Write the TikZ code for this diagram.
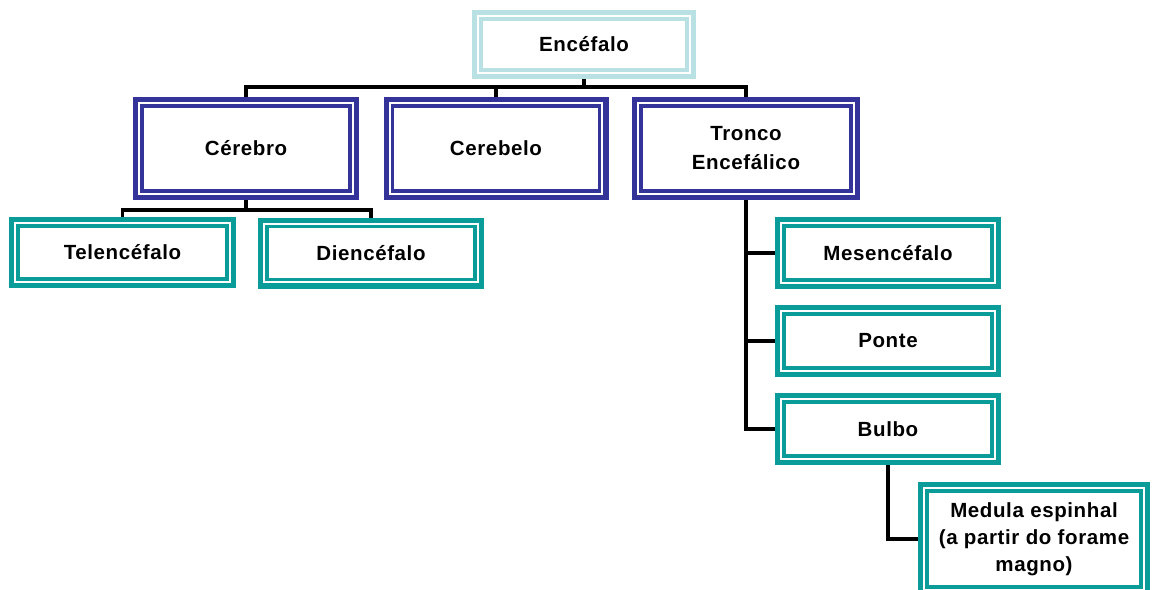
\documentclass[tikz,border=0pt]{standalone}
\usepackage{fontspec}
\newfontfamily\labfont[LetterSpace=3]{Liberation Sans Bold}
\definecolor{navyb}{HTML}{333399}
\definecolor{tealb}{HTML}{0A9C98}
\definecolor{lightb}{HTML}{B9E1E4}
\tikzset{
  dbox/.style={rectangle, inner sep=0pt, outer sep=0pt, fill=#1,
    font=\labfont\fontsize{20.5}{29}\selectfont, align=center, text=black,
    path picture={
      \fill[white] ([shift={(5.3pt,5.3pt)}]path picture bounding box.south west)
        rectangle ([shift={(-5.3pt,-5.3pt)}]path picture bounding box.north east);
      \draw[#1, line width=3.4pt] ([shift={(9pt,9pt)}]path picture bounding box.south west)
        rectangle ([shift={(-9pt,-9pt)}]path picture bounding box.north east);
    }},
  conn/.style={draw=black, line width=3.8pt, line join=miter}
}
\begin{document}
\begin{tikzpicture}[x=1pt,y=-1pt]
\useasboundingbox[fill=white] (0,0) rectangle (1156,589);
% nodes
\node[dbox=lightb, minimum width=224pt, minimum height=69pt] (enc) at (584,44.5) {Encéfalo};
\node[dbox=navyb, minimum width=226pt, minimum height=103pt] (cer) at (246,148.5) {Cérebro};
\node[dbox=navyb, minimum width=225pt, minimum height=103pt] (cbl) at (496,148.5) {Cerebelo};
\node[dbox=navyb, minimum width=228pt, minimum height=103pt] (tro) at (746,148.5) {Tronco\\Encefálico};
\node[dbox=tealb, minimum width=227pt, minimum height=71pt] (tel) at (122.5,252.5) {Telencéfalo};
\node[dbox=tealb, minimum width=226pt, minimum height=71pt] (die) at (371,253) {Diencéfalo};
\node[dbox=tealb, minimum width=226pt, minimum height=72pt] (mes) at (888,253) {Mesencéfalo};
\node[dbox=tealb, minimum width=226pt, minimum height=72pt] (pon) at (888,341) {Ponte};
\node[dbox=tealb, minimum width=226pt, minimum height=72pt] (bul) at (888,429) {Bulbo};
\node[dbox=tealb, minimum width=232pt, minimum height=114pt, font=\labfont\fontsize{20.5}{27}\selectfont] (med) at (1034,539) {Medula espinhal\\(a partir do forame\\magno)};
% bus coordinates
\coordinate (bus) at (0,87);
\coordinate (bus2) at (0,210);
% connectors
\draw[conn] (enc.south) -- (enc.south |- bus);
\draw[conn] (cer.north) -- (cer.north |- bus) -- (tro.north |- bus) -- (tro.north);
\draw[conn] (cbl.north) -- (cbl.north |- bus);
\draw[conn] (cer.south) -- (cer.south |- bus2);
\draw[conn] (tel.north) -- (tel.north |- bus2) -- (die.north |- bus2) -- (die.north);
\draw[conn] (tro.south) -- (tro.south |- bul.west) -- (bul.west);
\draw[conn] (tro.south |- mes.west) -- (mes.west);
\draw[conn] (tro.south |- pon.west) -- (pon.west);
\draw[conn] (bul.south) |- (med.west);
\end{tikzpicture}
\end{document}
